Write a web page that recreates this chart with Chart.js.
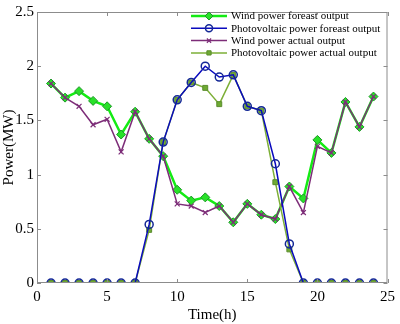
<!DOCTYPE html>
<html>
<head>
<meta charset="utf-8">
<script src="https://cdn.jsdelivr.net/npm/chart.js@4"></script>
<style>
  html, body { margin: 0; padding: 0; background: #fff; }
  #wrap { width: 400px; height: 324px; }
</style>
</head>
<body>
<div id="wrap"><canvas id="c" width="400" height="324"></canvas></div>
<script>
const hours = [1, 2, 3, 4, 5, 6, 7, 8, 9, 10, 11, 12, 13, 14, 15, 16, 17, 18, 19, 20, 21, 22, 23, 24];
const windForecast = [1.84, 1.71, 1.77, 1.68, 1.63, 1.37, 1.58, 1.33, 1.17, 0.86, 0.76, 0.79, 0.71, 0.56, 0.73, 0.63, 0.59, 0.89, 0.78, 1.32, 1.20, 1.67, 1.44, 1.72];
const pvForecast = [0, 0, 0, 0, 0, 0, 0, 0.54, 1.30, 1.69, 1.85, 2.00, 1.90, 1.92, 1.63, 1.59, 1.10, 0.36, 0, 0, 0, 0, 0, 0];
const windActual = [1.84, 1.71, 1.63, 1.46, 1.51, 1.21, 1.58, 1.33, 1.17, 0.73, 0.71, 0.65, 0.71, 0.56, 0.73, 0.63, 0.59, 0.89, 0.65, 1.26, 1.20, 1.67, 1.44, 1.72];
const pvActual = [0, 0, 0, 0, 0, 0, 0, 0.49, 1.30, 1.69, 1.85, 1.80, 1.65, 1.92, 1.63, 1.59, 0.93, 0.31, 0, 0, 0, 0, 0, 0];
const xTicks = [0, 5, 10, 15, 20, 25];
const yTicks = [0, 0.5, 1, 1.5, 2, 2.5];

const serif = '"Liberation Serif", "Times New Roman", serif';

function pts(vals) {
    return hours.map((h, i) => ({ x: h, y: vals[i] }));
}

// box round the plot with inward ticks on all four sides
const frame = {
    id: 'frame',
    afterDatasetsDraw(chart) {
        const { ctx, chartArea: a, scales } = chart;
        ctx.save();
        ctx.strokeStyle = '#8c8c8c';
        ctx.lineWidth = 1;
        ctx.strokeRect(a.left + 0.5, a.top + 0.5, a.right - a.left - 1, a.bottom - a.top - 1);
        ctx.beginPath();
        for (const t of xTicks) {
            const px = Math.round(scales.x.getPixelForValue(t)) + 0.5;
            ctx.moveTo(px, a.bottom); ctx.lineTo(px, a.bottom - 4);
            ctx.moveTo(px, a.top); ctx.lineTo(px, a.top + 4);
        }
        for (const t of yTicks) {
            const py = Math.round(scales.y.getPixelForValue(t)) + 0.5;
            ctx.moveTo(a.left, py); ctx.lineTo(a.left + 4, py);
            ctx.moveTo(a.right, py); ctx.lineTo(a.right - 4, py);
        }
        ctx.stroke();
        ctx.restore();
    }
};

// legend in the top right corner, drawn from the datasets
const legendBox = {
    id: 'legendBox',
    afterDraw(chart) {
        const { ctx, chartArea: a } = chart;
        const x0 = 191, y0 = 16, rowH = 12.3;
        ctx.save();
        ctx.fillStyle = '#fff';
        ctx.fillRect(186, a.top + 2, a.right - 188, 47);
        chart.data.datasets.forEach((ds, i) => {
            const y = y0 + i * rowH;
            ctx.strokeStyle = ds.borderColor;
            ctx.lineWidth = ds.borderWidth;
            ctx.beginPath();
            ctx.moveTo(x0, y); ctx.lineTo(x0 + 36, y);
            ctx.stroke();
            ctx.fillStyle = ds.pointBackgroundColor;
            ctx.strokeStyle = ds.pointBorderColor;
            ctx.lineWidth = ds.pointBorderWidth;
            Chart.helpers.drawPoint(ctx, { pointStyle: ds.pointStyle, radius: ds.pointRadius - 0.5, rotation: 0, borderWidth: ds.pointBorderWidth }, x0 + 18, y);
            ctx.fillStyle = '#000';
            ctx.font = '11px ' + serif;
            ctx.textBaseline = 'middle';
            ctx.textAlign = 'left';
            ctx.fillText(ds.label, x0 + 40, y + 0.5);
        });
        ctx.restore();
    }
};

new Chart(document.getElementById('c'), {
    type: 'line',
    data: {
        datasets: [{
            label: 'Wind power foreast output',
            data: pts(windForecast),
            borderColor: 'rgb(20,235,20)',
            borderWidth: 2.5,
            pointStyle: 'rectRot',
            pointRadius: 4.5,
            pointBackgroundColor: 'rgb(40,225,40)',
            pointBorderColor: 'rgb(30,150,40)',
            pointBorderWidth: 1,
            order: 4
        }, {
            label: 'Photovoltaic power foreast output',
            data: pts(pvForecast),
            borderColor: 'rgb(10,10,190)',
            borderWidth: 1.5,
            pointStyle: 'circle',
            pointRadius: 4,
            pointBackgroundColor: 'rgba(0,0,0,0)',
            pointBorderColor: 'rgb(20,40,150)',
            pointBorderWidth: 1.5,
            order: 1
        }, {
            label: 'Wind power actual output',
            data: pts(windActual),
            borderColor: 'rgb(125,45,120)',
            borderWidth: 1.5,
            pointStyle: 'crossRot',
            pointRadius: 3.5,
            pointBackgroundColor: 'rgb(125,45,120)',
            pointBorderColor: 'rgb(125,45,120)',
            pointBorderWidth: 1.2,
            order: 3
        }, {
            label: 'Photovoltaic power actual output',
            data: pts(pvActual),
            borderColor: 'rgb(125,175,55)',
            borderWidth: 1.5,
            pointStyle: 'rect',
            pointRadius: 3.5,
            pointBackgroundColor: 'rgb(110,170,50)',
            pointBorderColor: 'rgb(90,140,45)',
            pointBorderWidth: 1,
            order: 2
        }]
    },
    options: {
        responsive: false,
        animation: false,
        layout: { padding: { top: 7, right: 12, left: 0, bottom: 0 } },
        plugins: { legend: { display: false }, tooltip: { enabled: false } },
        elements: { line: { tension: 0 } },
        scales: {
            x: {
                type: 'linear',
                min: 0, max: 25,
                afterFit(s) { s.height = 41; },
                afterBuildTicks(s) { s.ticks = xTicks.map(v => ({ value: v })); },
                grid: { display: false, drawTicks: false },
                border: { display: false },
                ticks: { color: '#000', padding: 5, font: { family: serif, size: 15 }, callback: v => String(v) },
                title: { display: true, text: 'Time(h)', color: '#000', padding: { top: 0, bottom: 0 }, font: { family: serif, size: 15 } }
            },
            y: {
                min: 0, max: 2.5,
                afterFit(s) { s.width = 37; },
                afterBuildTicks(s) { s.ticks = yTicks.map(v => ({ value: v })); },
                grid: { display: false, drawTicks: false },
                border: { display: false },
                ticks: { color: '#000', padding: 3, font: { family: serif, size: 15 }, callback: v => String(v) },
                title: { display: true, text: 'Power(MW)', color: '#000', padding: { top: 0, bottom: 0 }, font: { family: serif, size: 15 } }
            }
        }
    },
    plugins: [frame, legendBox]
});
</script>
</body>
</html>
